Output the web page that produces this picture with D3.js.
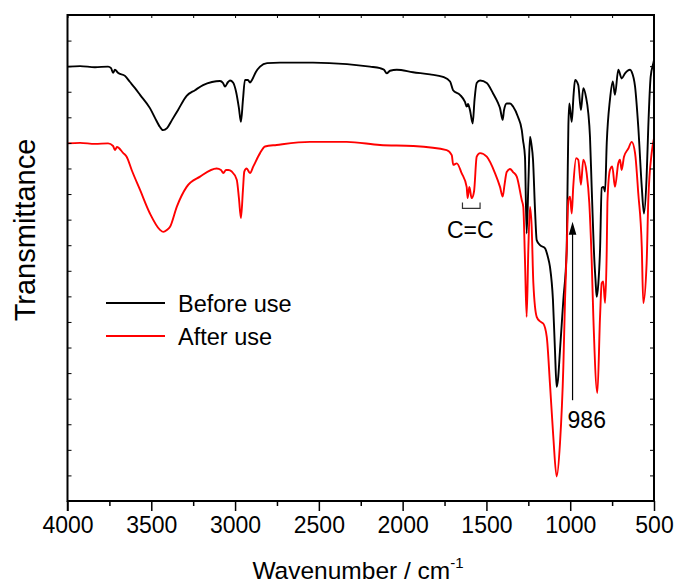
<!DOCTYPE html>
<html>
<head>
<meta charset="utf-8">
<script src="https://cdn.jsdelivr.net/npm/d3@7"></script>
<style>
  html, body { margin: 0; padding: 0; background: #fff; }
  svg { display: block; font-family: "Liberation Sans", Arial, sans-serif; }
</style>
</head>
<body>
<svg id="chart" width="677" height="585"></svg>
<script>
// FTIR spectra, wavenumber (cm-1) vs transmittance (arbitrary, offset)
const beforeWn = [4000,3925,3836,3758,3740,3728,3717,3699,3657,3627,3597,3567,3508,3478,3448,3430,3406,3376,3341,3289,3239,3191,3138,3090,3072,3060,3042,3030,3012,2994,2977,2965,2953,2941,2923,2911,2899,2875,2851,2809,2732,2535,2332,2195,2135,2111,2095,2075,2035,1938,1837,1759,1717,1699,1658,1628,1618,1610,1598,1582,1571,1558,1538,1498,1461,1431,1419,1403,1395,1379,1359,1341,1312,1289,1282,1270,1260,1249,1240,1231,1222,1210,1200,1180,1150,1134,1121,1103,1091,1081,1073,1061,1041,1021,1016,1011,1005,991,980,971,952,936,922,906,892,882,872,856,849,842,832,822,812,801,792,782,763,746,733,713,693,673,643,633,613,594,573,560,544,534,520,504,500];
const beforeT  = [84.9,85.0,84.8,84.9,84.6,83.7,84.3,83.7,83.1,81.9,80.7,79.4,76.8,74.9,73.1,72.5,72.9,74.5,76.4,79.2,80.3,81.3,81.9,82.1,81.7,81.0,81.9,82.2,81.8,80.0,76.8,74.1,78.4,82.3,82.3,81.8,82.3,83.9,84.9,85.6,85.7,85.7,85.4,84.9,84.6,84.3,83.6,84.1,84.3,83.8,83.4,82.9,82.0,80.3,79.4,78.0,77.1,77.6,76.4,73.8,78.4,81.7,82.2,81.7,79.7,77.8,76.8,74.5,76.4,77.7,77.7,77.1,75.1,72.5,70.6,67.3,52.3,62.8,71.2,69.6,66.7,56.9,51.0,50.0,49.4,47.8,45.8,39.3,29.5,22.3,23.7,29.5,39.3,49.1,61.4,73.2,77.7,74.1,79.4,82.3,81.3,76.4,80.7,79.0,75.8,71.2,61.4,47.1,43.2,39.9,42.6,49.1,61.2,61.4,60.5,70.0,78.4,82.0,79.4,84.3,82.6,83.6,84.3,83.9,81.0,73.2,61.4,56.2,63.4,73.2,82.9,85.6,86.2];

const afterWn = [4000,3925,3836,3758,3728,3717,3705,3667,3647,3617,3567,3508,3448,3428,3406,3388,3348,3289,3209,3110,3084,3070,3054,3040,3020,2990,2977,2965,2953,2945,2931,2911,2891,2851,2821,2752,2553,2334,2135,1938,1737,1707,1698,1677,1648,1618,1612,1602,1588,1574,1558,1538,1498,1449,1419,1403,1392,1379,1359,1341,1319,1289,1280,1270,1260,1250,1240,1230,1220,1200,1180,1161,1140,1121,1101,1081,1061,1041,1031,1021,1011,1001,991,982,965,952,936,922,902,886,872,862,838,822,812,803,792,782,778,763,749,733,713,703,693,679,653,633,613,594,573,564,544,534,514,500];
const afterT  = [69.9,70.0,69.8,69.9,69.4,68.6,69.2,68.0,67.3,64.7,60.8,56.2,53.0,52.6,53.0,53.6,57.5,61.4,63.4,65.0,64.7,64.1,64.7,64.7,64.4,62.8,59.2,55.3,60.8,64.4,65.0,64.1,65.4,68.0,69.3,69.6,70.2,70.2,69.6,69.4,68.6,67.6,65.7,66.0,64.1,61.4,59.2,61.4,59.2,60.5,67.3,68.0,67.3,64.1,61.4,59.5,61.8,64.3,64.9,64.3,63.4,58.8,57.5,47.1,36.0,49.1,57.5,53.6,42.6,36.0,35.1,34.7,32.1,23.0,12.6,4.8,11.3,26.3,39.3,49.1,58.8,59.5,56.2,61.4,67.0,66.7,61.8,66.7,64.1,58.2,47.1,36.0,21.1,36.0,42.6,42.9,38.7,49.1,58.3,64.7,65.4,61.4,66.0,66.7,64.7,67.3,68.9,70.2,68.0,60.2,49.7,38.7,46.5,58.8,68.0,70.9];

// axis ticks
const xMajor = [4000,3500,3000,2500,2000,1500,1000,500];
const xMinor = [3750,3250,2750,2250,1750,1250,750];
const yTicks = d3.range(0, 96, 5);

// legend and annotations
const seriesNames = ["Before use", "After use"];
const seriesColors = ["#000000", "#ff0000"];
const peakWn = 986, peakArrowTop = 54.6, peakArrowBottom = 19.7;
const ccRange = [1643, 1538], ccLevel = 57.2;

const svg = d3.select("#chart");
const M = {left: 67.5, right: 654, top: 15, bottom: 501};
const x = d3.scaleLinear().domain([4000, 500]).range([M.left, M.right]);
const y = d3.scaleLinear().domain([0, 95]).range([M.bottom, M.top]);

// spectra
const line = d3.line().x(d => x(d[0])).y(d => y(d[1])).curve(d3.curveMonotoneX);
const series = [d3.zip(beforeWn, beforeT), d3.zip(afterWn, afterT)];
series.forEach((s, i) => {
  svg.append("path").datum(s)
    .attr("d", line)
    .attr("fill", "none")
    .attr("stroke", seriesColors[i])
    .attr("stroke-width", 1.9)
    .attr("stroke-linejoin", "round");
});

// frame and axes
const axisW = 2;
svg.append("rect")
  .attr("x", M.left).attr("y", M.top)
  .attr("width", M.right - M.left).attr("height", M.bottom - M.top)
  .attr("fill", "none").attr("stroke", "#000").attr("stroke-width", axisW);

const bottom = svg.append("g").attr("transform", `translate(0,${M.bottom})`);
bottom.call(d3.axisBottom(x).tickValues(xMajor).tickSize(10).tickFormat(d3.format("d")));
bottom.append("g").call(d3.axisBottom(x).tickValues(xMinor).tickSize(5).tickFormat(""));
bottom.selectAll(".domain").remove();
bottom.selectAll("line").attr("stroke", "#000").attr("stroke-width", 1.5);
bottom.selectAll("text")
  .attr("font-size", 23).attr("fill", "#000").attr("dy", "0.78em").attr("y", 14)
  .style("font-family", "'Liberation Sans', Arial, sans-serif");

// top axis: small inward ticks
const topAx = svg.append("g").attr("transform", `translate(0,${M.top})`);
topAx.call(d3.axisBottom(x).tickValues(xMajor.concat(xMinor)).tickSize(3).tickFormat(""));
topAx.selectAll(".domain").remove();
topAx.selectAll("line").attr("stroke", "#000").attr("stroke-width", 1);

// left and right: inward ticks, no labels
const left = svg.append("g").attr("transform", `translate(${M.left},0)`);
left.call(d3.axisRight(y).tickValues(yTicks).tickSize(4).tickFormat(""));
left.selectAll(".domain").remove();
left.selectAll("line").attr("stroke", "#000").attr("stroke-width", 1);
const right = svg.append("g").attr("transform", `translate(${M.right},0)`);
right.call(d3.axisLeft(y).tickValues(yTicks).tickSize(4).tickFormat(""));
right.selectAll(".domain").remove();
right.selectAll("line").attr("stroke", "#000").attr("stroke-width", 1);

// left axis line extends slightly below the frame
svg.append("line").attr("x1", M.left).attr("x2", M.left)
  .attr("y1", M.bottom).attr("y2", M.bottom + 10)
  .attr("stroke", "#000").attr("stroke-width", 1.5);

// axis titles
const xt = svg.append("text").attr("x", 358).attr("y", 579)
  .attr("text-anchor", "middle").attr("font-size", 24.5).attr("fill", "#000");
xt.append("tspan").text("Wavenumber / cm");
xt.append("tspan").text("-1").attr("font-size", 15).attr("dy", -11);

svg.append("text")
  .attr("transform", "translate(35,230) rotate(-90)")
  .attr("text-anchor", "middle").attr("font-size", 29).attr("fill", "#000")
  .text("Transmittance");

// legend
const legY = [303, 336];
seriesNames.forEach((name, i) => {
  svg.append("line").attr("x1", 106).attr("x2", 165)
    .attr("y1", legY[i]).attr("y2", legY[i])
    .attr("stroke", seriesColors[i]).attr("stroke-width", 1.9);
  svg.append("text").attr("x", 178).attr("y", legY[i] + 9)
    .attr("font-size", 23.5).attr("fill", "#000").text(name);
});

// C=C bracket
const ccY = y(ccLevel);
svg.append("path")
  .attr("d", `M${x(ccRange[0])},${ccY - 6} V${ccY} H${x(ccRange[1])} V${ccY - 6}`)
  .attr("fill", "none").attr("stroke", "#333").attr("stroke-width", 1.2);
svg.append("text").attr("x", (x(ccRange[0]) + x(ccRange[1])) / 2 - 1).attr("y", ccY + 30)
  .attr("text-anchor", "middle").attr("font-size", 23).attr("fill", "#000").text("C=C");

// 986 arrow
const ax = x(peakWn);
svg.append("line").attr("x1", ax).attr("x2", ax)
  .attr("y1", y(peakArrowBottom)).attr("y2", y(peakArrowTop) + 10)
  .attr("stroke", "#000").attr("stroke-width", 1.2);
svg.append("path")
  .attr("d", `M${ax},${y(peakArrowTop)} L${ax - 3.8},${y(peakArrowTop) + 13} L${ax + 3.8},${y(peakArrowTop) + 13} Z`)
  .attr("fill", "#000");
svg.append("text").attr("x", ax - 5).attr("y", y(peakArrowBottom) + 28)
  .attr("font-size", 23).attr("fill", "#000").text(String(peakWn));
</script>
</body>
</html>
